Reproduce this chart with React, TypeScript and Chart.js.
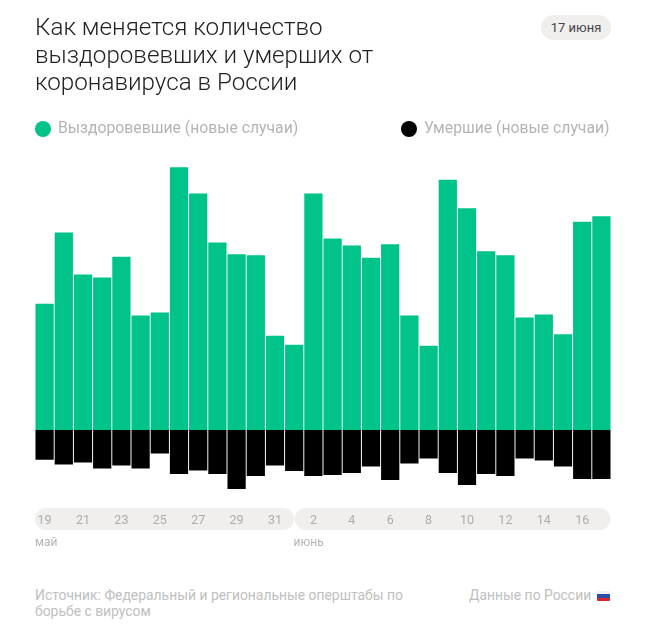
import React, { useEffect, useRef } from "react";
import { Chart, registerables } from "chart.js";

Chart.register(...registerables);

const days = ["19","20","21","22","23","24","25","26","27","28","29","30","31","1","2","3","4","5","6","7","8","9","10","11","12","13","14","15","16","17"];
const recovered = [4290,6715,5287,5185,5889,3893,3995,8935,8041,6375,5977,5943,3203,2897,8041,6511,6273,5855,6317,3893,2863,8507,7541,6079,5943,3825,3927,3257,7079,7269];
const deaths = [119,138,130,154,142,154,94,176,162,176,236,184,142,164,184,180,172,146,200,134,114,172,220,176,184,114,122,146,196,196];
const titleLines = ["Как меняется количество", "выздоровевших и умерших от", "коронавируса в России"];
const dateBadge = "17 июня";
const legendRecovered = "Выздоровевшие (новые случаи)";
const legendDeaths = "Умершие (новые случаи)";
const sourceText = ["Источник: Федеральный и региональные оперштабы по", "борьбе с вирусом"];
const regionText = "Данные по России";
const months = ["май", "июнь"];
const juneFirstIndex = 13;

const FONT = "Roboto, sans-serif";
const GREEN = "#00c389";
const MUTED = "#b4b4b4";

const pills = {
  id: "pills",
  beforeDraw(chart: any) {
    const { ctx, scales } = chart;
    const step = scales.x.getPixelForValue(1) - scales.x.getPixelForValue(0);
    const start = scales.x.getPixelForValue(0) - step / 2;
    const mid = scales.x.getPixelForValue(juneFirstIndex);
    const end = scales.x.getPixelForValue(days.length - 1) + step / 2;
    ctx.save();
    ctx.fillStyle = "#f1efee";
    for (const [x0, x1] of [[start, mid], [mid + 0.5, end - 0.5]]) {
      ctx.beginPath();
      ctx.roundRect(x0, 508, x1 - x0, 22, 11);
      ctx.fill();
    }
    ctx.restore();
  },
};

const abs = (left: number, top: number, extra: React.CSSProperties = {}): React.CSSProperties => ({
  position: "absolute",
  left,
  top,
  whiteSpace: "nowrap",
  fontFamily: FONT,
  ...extra,
});

export default function App() {
  const ref = useRef<HTMLCanvasElement>(null);
  useEffect(() => {
    const chart = new Chart(ref.current!, {
      type: "bar",
      data: {
        labels: days,
        datasets: [
          { label: legendRecovered, data: recovered, backgroundColor: GREEN, yAxisID: "y", grouped: false, categoryPercentage: 0.95, barPercentage: 1 },
          { label: legendDeaths, data: deaths.map((d) => -d), backgroundColor: "#000000", yAxisID: "y2", grouped: false, categoryPercentage: 0.95, barPercentage: 1 },
        ] as any,
      },
      options: {
        responsive: false,
        animation: false,
        layout: { padding: { left: 35, right: 39, top: 160, bottom: 0 } },
        plugins: { legend: { display: false }, tooltip: { enabled: false } },
        scales: {
          x: {
            grid: { display: false },
            border: { display: false },
            ticks: {
              autoSkip: false,
              maxRotation: 0,
              padding: 10,
              color: "#acacac",
              font: { family: "Roboto", size: 12.5 },
              callback(_v: any, i: number) {
                return i % 2 === 0 ? days[i] : "";
              },
            },
          },
          y: { display: false, min: -2210, max: 9180 },
          y2: { display: false, min: -260, max: 1080 },
        },
      },
      plugins: [pills],
    } as any);
    return () => chart.destroy();
  }, []);

  return (
    <div style={{ position: "absolute", left: 0, top: 0, width: 650, height: 633, overflow: "hidden", background: "#fff" }}>
      <canvas ref={ref} width={650} height={538} style={{ position: "absolute", left: 0, top: 0 }} />
      <div style={abs(35, 14, { fontSize: 24.2, lineHeight: "27.5px", color: "#222", fontWeight: 300 })}>
        {titleLines.map((l) => <div key={l}>{l}</div>)}
      </div>
      <div style={{ ...abs(541, 14.5, { width: 70, height: 25, borderRadius: 12.5, background: "#f1efee", color: "#444", fontSize: 13, lineHeight: "25px", textAlign: "center" }) }}>{dateBadge}</div>
      <div style={abs(35, 121, { width: 16, height: 16, borderRadius: 8, background: GREEN })} />
      <div style={abs(58, 118, { fontSize: 15.75, lineHeight: "20px", color: MUTED })}>{legendRecovered}</div>
      <div style={abs(401, 121, { width: 16, height: 16, borderRadius: 8, background: "#000" })} />
      <div style={abs(424, 118, { fontSize: 15.75, lineHeight: "20px", color: MUTED })}>{legendDeaths}</div>
      <div style={abs(35, 534, { fontSize: 12, lineHeight: "16px", color: MUTED })}>{months[0]}</div>
      <div style={abs(293.5, 534, { fontSize: 12, lineHeight: "16px", color: MUTED })}>{months[1]}</div>
      <div style={abs(35, 587, { fontSize: 13.9, lineHeight: "16px", color: "#c0c0c0" })}>
        {sourceText.map((l) => <div key={l}>{l}</div>)}
      </div>
      <div style={abs(469, 587, { fontSize: 13.9, lineHeight: "16px", color: "#c0c0c0" })}>{regionText}</div>
      <div style={abs(597, 591, { width: 13, height: 10, background: "linear-gradient(#eef0f4 0 33%, #2b4fa8 33% 66%, #d8262f 66%)", borderRadius: 1 })} />
    </div>
  );
}
